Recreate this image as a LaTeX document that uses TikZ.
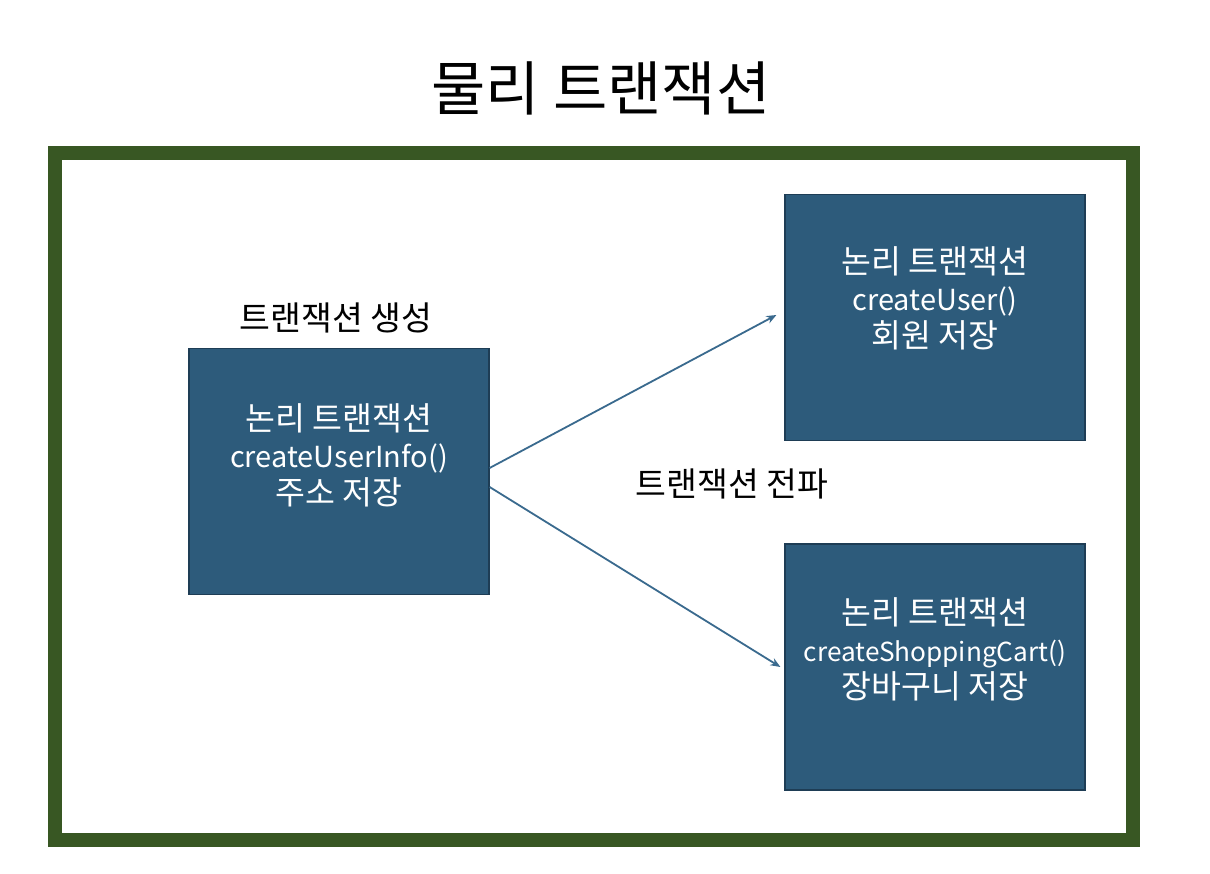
\documentclass[tikz,border=0pt]{standalone}
\usepackage{fontspec}
\setmainfont{Noto Sans CJK KR}
\usetikzlibrary{arrows.meta}
\definecolor{framegreen}{HTML}{385723}
\definecolor{boxblue}{HTML}{2D5B7B}
\definecolor{boxedge}{HTML}{1E3D55}
\definecolor{arrowblue}{HTML}{3A6A8E}
\newcommand\hg[1]{{\fontsize{32.5}{37}\selectfont #1}}
\tikzset{
  ltx/.style={draw=boxedge, line width=1.2pt, fill=boxblue, minimum width=300pt, minimum height=246pt,
    inner sep=0pt},
  intext/.style={text=white, font=\fontsize{29}{37}\selectfont, align=center, inner sep=0pt},
  lbl/.style={font=\fontsize{33.5}{36}\selectfont, text=black, inner sep=0pt},
  arr/.style={draw=arrowblue, line width=1.8pt, -{Stealth[length=10pt,width=8pt]}}
}
\begin{document}
\begin{tikzpicture}[x=1pt,y=-1pt]
\useasboundingbox (0,0) rectangle (1210,874);
\fill[white] (0,0) rectangle (1210,874);
\node[font=\fontsize{59}{60}\selectfont, inner sep=0pt] (title) at (601,88) {물리 트랜잭션};
\draw[framegreen, line width=14pt] (54.5,153.5) rectangle (1132.5,840);
\node[ltx] (L) at (339,471.5) {};
\node[ltx] (TR) at (935,317.5) {};
\node[ltx] (BR) at (935,667) {};
\node[intext] (Lt) at (339,455) {\hg{논리 트랜잭션}\\createUserInfo()\\\hg{주소 저장}};
\node[intext] (TRt) at (935,298) {\hg{논리 트랜잭션}\\createUser()\\\hg{회원 저장}};
\node[intext] (BRt) at (935,649) {\hg{논리 트랜잭션}\\{\fontsize{26.2}{37}\selectfont createShoppingCart()}\\\hg{장바구니 저장}};
\node[lbl] (gen) at (336,318) {트랜잭션 생성};
\node[lbl] (prop) at (732,484) {트랜잭션 전파};
\draw[arr] ([yshift=3.5pt]L.east) -- ([xshift=-8pt,yshift=2.5pt]TR.west);
\draw[arr] ([yshift=-15.5pt]L.east) -- ([xshift=-4pt]BR.west);
\end{tikzpicture}
\end{document}
